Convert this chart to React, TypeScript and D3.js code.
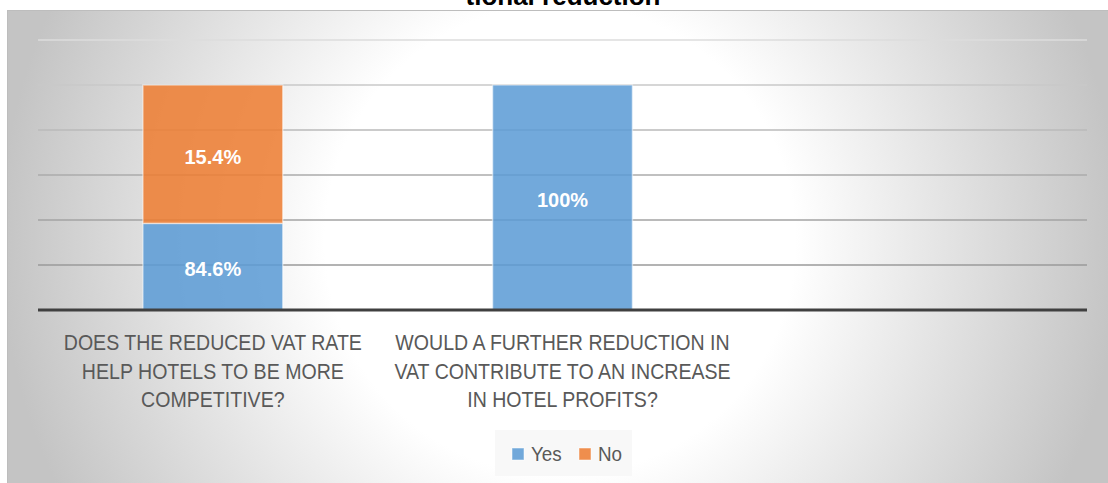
import React from "react";
import * as d3 from "d3";

const categories = ["q1", "q2", "q3"];
const categoryLines = [
  ["DOES THE REDUCED VAT RATE", "HELP HOTELS TO BE MORE", "COMPETITIVE?"],
  ["WOULD A FURTHER REDUCTION IN", "VAT CONTRIBUTE TO AN INCREASE", "IN HOTEL PROFITS?"],
  [],
];
const yesValues = [0.385, 1.0, 0];
const noValues = [0.615, 0, 0];
const yesLabels = ["84.6%", "100%", ""];
const noLabels = ["15.4%", "", ""];
const seriesNames = ["Yes", "No"];
const seriesColors = ["#5b9bd5", "#ed7d31"];
const gridTicks = [0.2, 0.4, 0.6, 0.8, 1.0, 1.2];
const titleText = "tional reduction";

const W = 1108;
const H = 483;

export default function App() {
  const x = d3.scaleBand<string>().domain(categories).range([38, 1087]).padding(0);
  const y = d3.scaleLinear().domain([0, 1.2]).range([310, 40]);
  const gridColor = d3
    .scaleLinear<string>()
    .domain([0.2, 0.6, 1.0, 1.2])
    .range(["#9a9a9a", "#ababab", "#c8c8c8", "#dcdcdc"]);
  const bw = x.bandwidth() * 0.4;
  const off = x.bandwidth() * 0.3;

  const segs: { cat: string; i: number; s: number; y0: number; y1: number; label: string }[] = [];
  categories.forEach((c, i) => {
    const vals = [yesValues[i], noValues[i]];
    const labs = [yesLabels[i], noLabels[i]];
    let acc = 0;
    vals.forEach((v, s) => {
      if (v > 0) segs.push({ cat: c, i, s, y0: acc, y1: acc + v, label: labs[s] });
      acc += v;
    });
  });

  return (
    <svg
      width={W}
      height={H}
      style={{ position: "absolute", left: 0, top: 0, display: "block" }}
      fontFamily="'Liberation Sans', Arial, sans-serif"
    >
      <defs>
        <radialGradient id="bg" gradientUnits="userSpaceOnUse" cx={560} cy={240} r={560}>
          <stop offset="0" stopColor="#ffffff" />
          <stop offset="0.42" stopColor="#ffffff" />
          <stop offset="1" stopColor="#c4c4c4" />
        </radialGradient>
      </defs>
      <rect x={0} y={0} width={W} height={H} fill="#ffffff" />
      <rect x={7.5} y={10.5} width={W} height={H} fill="url(#bg)" stroke="#bdbdbd" strokeWidth={1} />
      <text x={563} y={5} textAnchor="middle" fontSize={26} fontWeight="bold" fill="#000">
        {titleText}
      </text>

      {gridTicks.map((t) => (
        <line
          key={t}
          x1={38}
          x2={1087}
          y1={y(t)}
          y2={y(t)}
          stroke={gridColor(t)}
          strokeWidth={1.6}
        />
      ))}

      {segs.map((d) => (
        <rect
          key={d.cat + d.s}
          x={(x(d.cat) as number) + off}
          y={y(d.y1)}
          width={bw}
          height={y(d.y0) - y(d.y1)}
          fill={seriesColors[d.s]}
          fillOpacity={0.86}
          stroke="#ffffff"
          strokeOpacity={0.5}
          strokeWidth={1.5}
        />
      ))}

      {segs.map((d) => (
        <text
          key={"l" + d.cat + d.s}
          x={(x(d.cat) as number) + x.bandwidth() / 2}
          y={(y(d.y0) + y(d.y1)) / 2 + 9.5}
          textAnchor="middle"
          fontSize={20}
          fontWeight="bold"
          fill="#ffffff"
        >
          {d.label}
        </text>
      ))}

      <line x1={38} x2={1087} y1={y(0)} y2={y(0)} stroke="#404040" strokeWidth={3} />

      {categories.map((c, i) => (
        <g
          key={"c" + c}
          transform={`translate(${(x(c) as number) + x.bandwidth() / 2},0) scale(0.91,1)`}
        >
          {categoryLines[i].map((ln, j) => (
            <text
              key={j}
              x={0}
              y={350.5 + j * 28.3}
              textAnchor="middle"
              fontSize={21.5}
              fill="#595959"
            >
              {ln}
            </text>
          ))}
        </g>
      ))}

      <rect x={495} y={430} width={137} height={46} fill="#f8f8f8" />
      {seriesNames.map((n, i) => {
        const lx = [512, 579][i];
        return (
          <g key={n}>
            <rect x={lx} y={448} width={12} height={12} fill={seriesColors[i]} fillOpacity={0.86} stroke="#fff" strokeOpacity={0.5} />
            <g transform={`translate(${lx + 19},460.5) scale(0.92,1)`}>
              <text x={0} y={0} fontSize={20.5} fill="#595959">
                {n}
              </text>
            </g>
          </g>
        );
      })}
    </svg>
  );
}
